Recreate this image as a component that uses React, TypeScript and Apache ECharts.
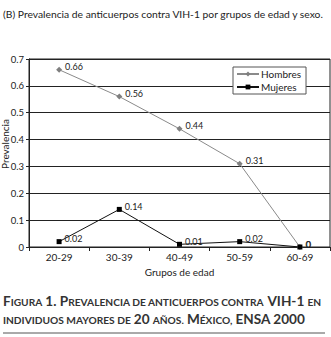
import React, { useEffect, useRef } from "react";
import * as echarts from "echarts";

const categories = ["20-29", "30-39", "40-49", "50-59", "60-69"];
const hombres = [0.66, 0.56, 0.44, 0.31, 0];
const mujeres = [0.02, 0.14, 0.01, 0.02, 0];
const yTicks = [0, 0.1, 0.2, 0.3, 0.4, 0.5, 0.6, 0.7];
const seriesNames = ["Hombres", "Mujeres"];
const topTitle = "(B) Prevalencia de anticuerpos contra VIH-1 por grupos de edad y sexo.";
const xName = "Grupos de edad";
const yName = "Prevalencia";

const FONT = "Lato, 'Open Sans', sans-serif";

export default function App() {
  const ref = useRef<HTMLDivElement>(null);
  useEffect(() => {
    if (!ref.current) return;
    const chart = echarts.init(ref.current, undefined, { renderer: "svg" });
    const lbl = (v: number) => (v === 0 ? "0" : String(v));
    const rich = {
      b: { fontSize: 13.6, fontWeight: "bold", fill: "#333", fontFamily: FONT, verticalAlign: "bottom", lineHeight: 15 },
      s: { fontSize: 10.2, fontWeight: "bold", fill: "#333", fontFamily: FONT, verticalAlign: "bottom", lineHeight: 15, padding: [0, 0, 1, 0] },
    };
    chart.setOption({
      animation: false,
      backgroundColor: "#fff",
      textStyle: { fontFamily: FONT },
      grid: {
        left: 29,
        right: 1,
        top: 59,
        bottom: 90,
        outerBoundsMode: "none",
        containLabel: false,
        show: true,
        borderColor: "#222",
        borderWidth: 1,
        backgroundColor: "transparent",
      },
      legend: {
        data: seriesNames,
        orient: "vertical",
        left: 233,
        top: 67,
        itemWidth: 22,
        itemHeight: 6,
        itemGap: 3,
        padding: [2, 5, 2, 3],
        backgroundColor: "#fff",
        borderColor: "#555",
        borderWidth: 1,
        textStyle: { fontSize: 10, color: "#222", fontFamily: FONT, padding: [0, 0, 0, -3] },
      },
      xAxis: {
        type: "category",
        data: categories,
        boundaryGap: true,
        name: xName,
        nameLocation: "middle",
        nameGap: 20,
        nameMoveOverlap: false,
        nameTextStyle: { fontSize: 10, color: "#222", fontFamily: FONT },
        axisLine: { lineStyle: { color: "#222", width: 1 } },
        axisTick: { show: true, length: 4, lineStyle: { color: "#222" } },
        axisLabel: { fontSize: 10, color: "#222", margin: 5, fontFamily: FONT },
        splitLine: { show: false },
      },
      yAxis: {
        type: "value",
        min: 0,
        max: 0.7,
        interval: 0.1,
        name: yName,
        nameLocation: "middle",
        nameGap: 19,
        nameMoveOverlap: false,
        nameTextStyle: { fontSize: 10, color: "#222", fontFamily: FONT, padding: [0, 0, 0, 18] },
        axisLine: { show: true, lineStyle: { color: "#222", width: 1 } },
        axisTick: { show: true, length: 3, lineStyle: { color: "#222" } },
        axisLabel: {
          fontSize: 9.5,
          color: "#222",
          margin: 5,
          fontFamily: FONT,
          formatter: (v: number) => {
            const t = yTicks.find((x) => Math.abs(x - v) < 1e-9);
            return t === undefined ? "" : t === 0 ? "0" : t.toFixed(1);
          },
        },
        splitLine: { show: true, lineStyle: { color: "#222", width: 1 } },
      },
      series: [
        {
          name: seriesNames[0],
          type: "line",
          data: hombres,
          symbol: "diamond",
          symbolSize: 6,
          itemStyle: { color: "#7f7f7f" },
          lineStyle: { color: "#8a8a8a", width: 1 },
          label: {
            show: true,
            position: "right",
            offset: [-2, -3],
            fontSize: 9,
            color: "#222",
            fontFamily: FONT,
            formatter: (p: any) => lbl(p.value),
          },
        },
        {
          name: seriesNames[1],
          type: "line",
          data: mujeres,
          symbol: "rect",
          symbolSize: 5,
          itemStyle: { color: "#000" },
          lineStyle: { color: "#111", width: 1 },
          label: {
            show: true,
            position: "right",
            offset: [-2, -3],
            fontSize: 9,
            color: "#222",
            fontFamily: FONT,
            formatter: (p: any) => lbl(p.value),
          },
        },
      ],
      graphic: [
        {
          type: "text",
          left: 3,
          top: 9,
          style: { text: topTitle, fontSize: 10.3, fill: "#222", fontFamily: FONT },
        },
        {
          type: "text",
          left: 3,
          top: 294,
          style: {
            text: "{b|F}{s|IGURA} {b|1. P}{s|REVALENCIA DE ANTICUERPOS CONTRA} {b|VIH-1} {s|EN}",
            fontFamily: FONT,
            rich,
          },
        },
        {
          type: "text",
          left: 3,
          top: 312,
          style: {
            text: "{s|INDIVIDUOS MAYORES DE} {b|20} {s|AÑOS.} {b|M}{s|ÉXICO,} {b|ENSA 2000}",
            fontFamily: FONT,
            rich,
          },
        },
        {
          type: "line",
          shape: { x1: 3, y1: 333, x2: 325, y2: 333 },
          style: { stroke: "#555", lineWidth: 1 },
        },
      ],
    });
    return () => chart.dispose();
  }, []);
  return (
    <div
      ref={ref}
      style={{ position: "absolute", left: 0, top: 0, width: 331, height: 337 }}
    />
  );
}
